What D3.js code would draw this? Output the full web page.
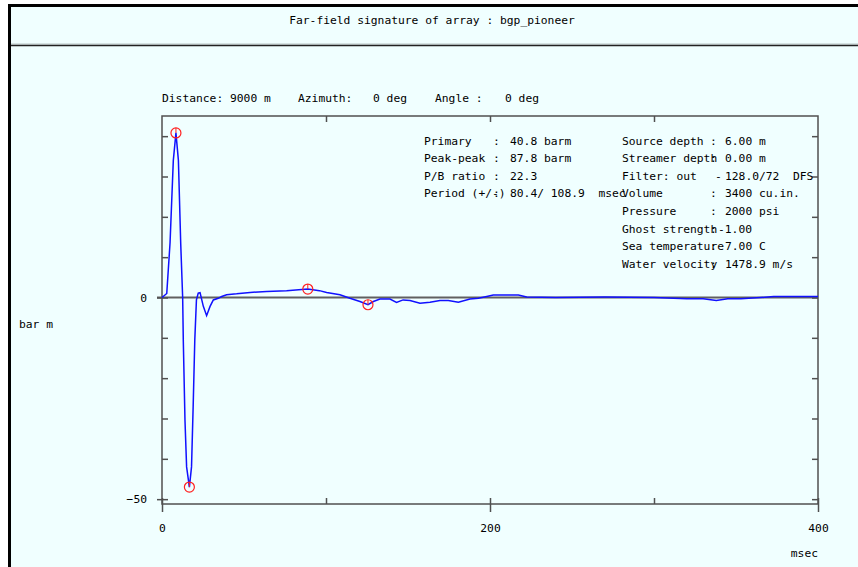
<!DOCTYPE html>
<html>
<head>
<meta charset="utf-8">
<script src="https://cdn.jsdelivr.net/npm/d3@7"></script>
<style>
  body { margin: 0; background: #ffffff; }
  text { font-family: "DejaVu Sans Mono", monospace; font-size: 11.3px; fill: #000; white-space: pre; }
</style>
</head>
<body>
<div id="chart"></div>
<script>
// signature samples (msec, bar m)
const times = [0, 2.9, 4.9, 6.9, 8.5, 10, 11.4, 12.6, 13, 14, 15, 16.7, 18, 19, 20, 21, 22.1, 23.2,
  25.2, 27.2, 29.3, 31.3, 34.3, 36.4, 39.4, 45.5, 53.7, 63.8, 76, 88.9, 96, 100.4, 108.5, 114.6,
  120.7, 125.6, 128.9, 132.9, 139, 143, 147, 151.2, 157.3, 163.4, 169.5, 174.6, 180.7, 187.8,
  192.9, 198, 202, 217.3, 222.4, 240, 270, 300, 320, 330, 338, 345, 353, 365, 373, 400];
const values = [0, 1, 13.5, 34, 40.8, 34, 13.5, 0, -10.9, -30.3, -42, -47, -42, -27, -10.5, -0.6, 1.1, 1.2,
  -2.2, -4.5, -2.2, -0.6, -0.2, 0.25, 0.7, 0.9, 1.25, 1.5, 1.66, 2.1, 1.7, 1.25, 0.7, -0.2,
  -1.0, -1.8, -1.0, -0.4, -0.4, -1.2, -0.6, -0.75, -1.4, -1.15, -0.75, -0.75, -1.15, -0.4,
  -0.2, 0.25, 0.6, 0.6, 0.1, 0, 0.1, 0, -0.3, -0.3, -0.75, -0.3, -0.3, 0, 0.25, 0.25];

// picked peaks (primary, trough, bubble peak, bubble trough)
const peakTimes = [8.5, 16.7, 88.9, 125.6];
const peakValues = [40.8, -47, 2.1, -1.8];

const xLabelTicks = [0, 200, 400];
const xMinorTicks = [100, 300];
const yLabelTicks = [0, -50];
const yMinorTicks = [40, 30, 20, 10, -10, -20, -30, -40];

const title = "Far-field signature of array : bgp_pioneer";
const subtitle = ["Distance: 9000 m", "Azimuth:", "0 deg", "Angle :", "0 deg"];
const infoLeft = [
  ["Primary", ":", "40.8 barm"],
  ["Peak-peak", ":", "87.8 barm"],
  ["P/B ratio", ":", "22.3"],
  ["Period (+/-)", ":", "80.4/ 108.9  msec"]
];
const infoRight = [
  ["Source depth", ":", "6.00 m"],
  ["Streamer depth", ":", "0.00 m"],
  ["Filter: out", "-", "128.0/72  DFS"],
  ["Volume", ":", "3400 cu.in."],
  ["Pressure", ":", "2000 psi"],
  ["Ghost strength", ":", "-1.00"],
  ["Sea temperature", ":", "7.00 C"],
  ["Water velocity", ":", "1478.9 m/s"]
];

const W = 858, H = 567;
const svg = d3.select("#chart").append("svg").attr("width", W).attr("height", H);

// panel
svg.append("rect").attr("x", 8).attr("y", 4).attr("width", W - 8).attr("height", H - 4).attr("fill", "#f0ffff");
svg.append("line").attr("x1", 8).attr("x2", W).attr("y1", 5.5).attr("y2", 5.5).attr("stroke", "#000").attr("stroke-width", 3);
svg.append("line").attr("x1", 9.5).attr("x2", 9.5).attr("y1", 4).attr("y2", H).attr("stroke", "#000").attr("stroke-width", 3);
svg.append("line").attr("x1", 11).attr("x2", W).attr("y1", 44).attr("y2", 44).attr("stroke", "#b8c4c4").attr("stroke-width", 1);
svg.append("line").attr("x1", 11).attr("x2", W).attr("y1", 45.5).attr("y2", 45.5).attr("stroke", "#222").attr("stroke-width", 1.5);

svg.append("text").attr("x", 432).attr("y", 24).attr("text-anchor", "middle").text(title);

const subX = [162, 298, 373, 435, 505];
svg.selectAll(".sub").data(subtitle).join("text").attr("class", "sub")
  .attr("x", (d, i) => subX[i]).attr("y", 102).text(d => d);

// scales
const x = d3.scaleLinear().domain([0, 400]).range([162, 818]);
const y = d3.scaleLinear().domain([-51.2, 45]).range([504, 116]);

const axisColor = "#505050";

// frame
svg.append("rect").attr("x", x(0)).attr("y", y(45)).attr("width", x(400) - x(0)).attr("height", y(-51.2) - y(45))
  .attr("fill", "none").attr("stroke", axisColor).attr("stroke-width", 1.5);

// zero line
svg.append("line").attr("x1", x(0) - 5).attr("x2", x(400)).attr("y1", y(0)).attr("y2", y(0))
  .attr("stroke", "#606060").attr("stroke-width", 2);

function styleAxis(g) {
  g.select(".domain").remove();
  g.selectAll(".tick line").attr("stroke", axisColor).attr("stroke-width", 1.5);
  g.selectAll(".tick text").attr("font-family", "DejaVu Sans Mono").attr("font-size", 11.3).attr("fill", "#000");
}

// left axis: labelled ticks cross the frame, minor ticks point inward
svg.append("g").attr("transform", `translate(${x(0)},0)`)
  .call(d3.axisLeft(y).tickValues(yLabelTicks).tickSize(5).tickPadding(10).tickFormat(d3.format("d")))
  .call(styleAxis);
svg.append("g").attr("transform", `translate(${x(0)},0)`)
  .call(d3.axisLeft(y).tickValues(yMinorTicks.concat(yLabelTicks)).tickSize(-6).tickFormat(""))
  .call(styleAxis);
// right axis
svg.append("g").attr("transform", `translate(${x(400)},0)`)
  .call(d3.axisRight(y).tickValues(yMinorTicks.concat(yLabelTicks)).tickSize(-6).tickFormat(""))
  .call(styleAxis);

// bottom axis
svg.append("g").attr("transform", `translate(0,${y(-51.2)})`)
  .call(d3.axisBottom(x).tickValues(xLabelTicks).tickSize(8).tickPadding(12).tickFormat(d3.format("d")))
  .call(styleAxis);
svg.append("g").attr("transform", `translate(0,${y(-51.2)})`)
  .call(d3.axisBottom(x).tickValues(xLabelTicks.concat(xMinorTicks)).tickSize(-6).tickFormat(""))
  .call(styleAxis);
// top axis
svg.append("g").attr("transform", `translate(0,${y(45)})`)
  .call(d3.axisTop(x).tickValues([100, 200, 300]).tickSize(-6).tickFormat(""))
  .call(styleAxis);

// axis titles
svg.append("text").attr("x", 19).attr("y", 328).text("bar m");
svg.append("text").attr("x", 818).attr("y", 557).attr("text-anchor", "end").text("msec");

// signature curve
const sig = times.map((t, i) => ({ t: t, v: values[i] }));
const line = d3.line().x(d => x(d.t)).y(d => y(d.v));
svg.append("path").datum(sig).attr("d", line)
  .attr("fill", "none").attr("stroke", "#1010ff").attr("stroke-width", 1.5);

// peak markers
const peaks = peakTimes.map((t, i) => ({ t: t, v: peakValues[i] }));
const mk = svg.selectAll(".peak").data(peaks).join("g").attr("class", "peak")
  .attr("transform", d => `translate(${x(d.t)},${y(d.v)})`);
mk.append("circle").attr("r", 5).attr("fill", "none").attr("stroke", "#ff2020").attr("stroke-width", 1.2);
mk.append("line").attr("x1", 0).attr("x2", 0).attr("y1", -5).attr("y2", 0).attr("stroke", "#ff2020").attr("stroke-width", 1);

// info block
const rowY = i => 144.5 + i * 17.6;
infoLeft.forEach((r, i) => {
  svg.append("text").attr("x", 424).attr("y", rowY(i)).text(r[0]);
  svg.append("text").attr("x", 493).attr("y", rowY(i)).text(r[1]);
  svg.append("text").attr("x", 510).attr("y", rowY(i)).text(r[2]);
});
infoRight.forEach((r, i) => {
  svg.append("text").attr("x", 622).attr("y", rowY(i)).text(r[0]);
  svg.append("text").attr("x", r[1] === "-" ? 715 : 710).attr("y", rowY(i)).text(r[1]);
  svg.append("text").attr("x", r[2].startsWith("-") ? 718 : 725).attr("y", rowY(i)).text(r[2]);
});
</script>
</body>
</html>
